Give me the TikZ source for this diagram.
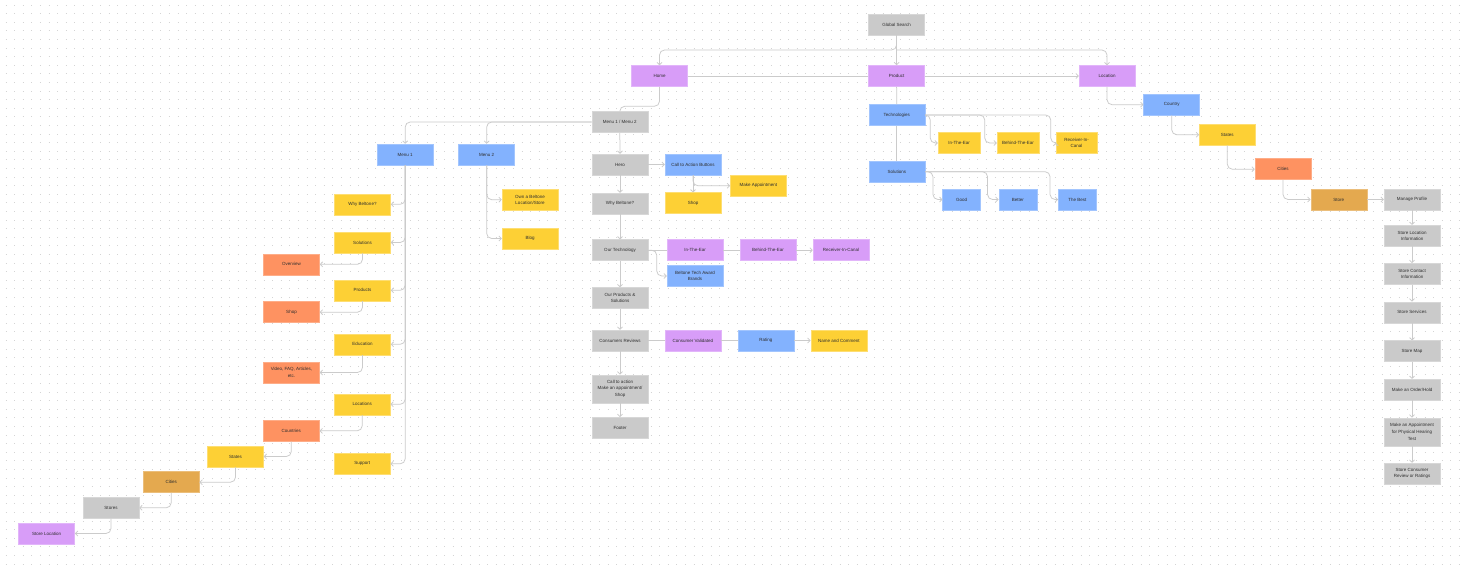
\documentclass[tikz,border=0pt]{standalone}
\usepackage{fontspec}
\setmainfont{Liberation Sans}
\usetikzlibrary{arrows.meta}

\definecolor{cgrey}{HTML}{CACACA}
\definecolor{cpurple}{HTML}{D89DF8}
\definecolor{cblue}{HTML}{83B2FE}
\definecolor{cyellow}{HTML}{FDD035}
\definecolor{corange}{HTML}{FE9261}
\definecolor{camber}{HTML}{E4A94F}
\definecolor{txt}{HTML}{2E2E2E}
\definecolor{lc}{HTML}{CBCBCB}
\definecolor{dotc}{HTML}{D4D4D4}

\tikzset{
  box/.style={rectangle, minimum width=56pt, minimum height=21pt, inner sep=0pt,
    align=center, font=\fontsize{4.5}{6.6}\selectfont, text=txt, line width=0.5pt},
  greybox/.style={box, fill=cgrey, draw=cgrey!75!white},
  purplebox/.style={box, fill=cpurple, draw=cpurple!75!white},
  bluebox/.style={box, fill=cblue, draw=cblue!75!white},
  yellowbox/.style={box, fill=cyellow, draw=cyellow!70!white},
  orangebox/.style={box, fill=corange, draw=corange!75!white},
  amberbox/.style={box, fill=camber, draw=camber!75!white},
  tall/.style={minimum height=28pt},
  conn/.style={draw=lc, line width=0.75pt, rounded corners=5pt},
  arr/.style={conn, -{Straight Barb[length=2.4pt,width=5pt]}},
}

\begin{document}
\begin{tikzpicture}[x=1pt, y=-1pt]
% canvas
\fill[white] (0,0) rectangle (1467,565);
\useasboundingbox (0,0) rectangle (1467,565);
% dotted grid
\foreach \i in {0,...,65}{
  \draw[dotc, line width=0.9pt, dash pattern=on 0.9pt off 7.7pt] (5.5,{5+8.6*\i}) -- (1467,{5+8.6*\i});
}

% ---------- top level ----------
\node[greybox] (gs) at (896.6,24.5) {Global Search};
\node[purplebox] (home) at (659.5,76) {Home};
\node[purplebox] (product) at (896.6,76) {Product};
\node[purplebox] (location) at (1107,76) {Location};
\coordinate (bus) at (896.6,50);

% ---------- product branch ----------
\node[bluebox] (tech) at (896.8,115) {Technologies};
\node[bluebox] (sol) at (896.8,171.7) {Solutions};
\node[yellowbox, minimum width=42pt] (ite) at (959,143) {In-The-Ear};
\node[yellowbox, minimum width=42pt] (bte) at (1018,143) {Behind-The-Ear};
\node[yellowbox, minimum width=41pt] (ric) at (1076.5,143) {Receiver-In-\\Canal};
\node[bluebox, minimum width=38pt] (good) at (961.7,199.5) {Good};
\node[bluebox, minimum width=38pt] (better) at (1017.8,199.5) {Better};
\node[bluebox, minimum width=38pt] (best) at (1077.3,199.5) {The Best};

% ---------- location branch ----------
\node[bluebox] (country) at (1171.7,104.7) {Country};
\node[yellowbox] (states) at (1227.3,134.7) {States};
\node[orangebox] (cities) at (1283,169.2) {Cities};
\node[amberbox] (store) at (1338.8,199.5) {Store};
\node[greybox] (manage) at (1412,199.5) {Manage Profile};
\node[greybox] (sli) at (1412,235.7) {Store Location\\Information};
\node[greybox] (sci) at (1412,273.8) {Store Contact\\Information};
\node[greybox] (sserv) at (1412,312.3) {Store Services};
\node[greybox] (smap) at (1412,351.2) {Store Map};
\node[greybox] (order) at (1412,389.7) {Make an Order/Hold};
\node[greybox, tall] (appt) at (1412,431.8) {Make an Appointment\\for Physical Hearing\\Test};
\node[greybox] (review) at (1412,473.5) {Store Consumer\\Review or Ratings};

% ---------- home page column ----------
\node[greybox] (menus) at (619.8,122) {Menu 1 / Menu 2};
\node[greybox] (hero) at (620,164.5) {Hero};
\node[bluebox] (cta) at (693,164.5) {Call to Action Buttons};
\node[yellowbox] (mkappt) at (758.3,185.8) {Make Appointment};
\node[yellowbox] (shopa) at (693,203.2) {Shop};
\node[greybox] (why) at (620,203.5) {Why Beltone?};
\node[greybox] (ourtech) at (620,250.2) {Our Technology};
\node[purplebox] (iteb) at (695,250.2) {In-The-Ear};
\node[purplebox] (bteb) at (768,250.2) {Behind-The-Ear};
\node[purplebox] (ricb) at (841,250.2) {Receiver-In-Canal};
\node[bluebox] (award) at (695,276) {Beltone Tech Award\\Brands};
\node[greybox] (prods) at (620,298) {Our Products \&\\Solutions};
\node[greybox] (creviews) at (620,340.5) {Consumers Reviews};
\node[purplebox] (cval) at (692.8,340.5) {Consumer Validated};
\node[bluebox] (rating) at (765.8,340.5) {Rating};
\node[yellowbox] (namec) at (838.8,340.5) {Name and Comment};
\node[greybox, tall] (ctab) at (620,388.8) {Call to action\\Make an appointment/\\Shop};
\node[greybox] (footer) at (620,427.8) {Footer};

% ---------- menus ----------
\node[bluebox] (menua) at (405.2,154.5) {Menu 1};
\node[bluebox] (menub) at (486.7,154.5) {Menu 2};
\node[yellowbox] (own) at (530,199.7) {Own a Beltone\\Location/Store};
\node[yellowbox] (blog) at (530,238.5) {Blog};
\node[yellowbox] (whya) at (362.5,204.3) {Why Beltone?};
\node[yellowbox] (solsa) at (362.5,242.5) {Solutions};
\node[orangebox] (overview) at (291.5,264.3) {Overview};
\node[yellowbox] (prodsa) at (362.5,290.3) {Products};
\node[orangebox] (shopb) at (291.5,312.2) {Shop};
\node[yellowbox] (edu) at (362.5,344.3) {Education};
\node[orangebox] (video) at (291.5,372.5) {Video, FAQ, Articles,\\etc.};
\node[yellowbox] (locs) at (362.2,404.3) {Locations};
\node[orangebox] (countries) at (291.3,430.8) {Countries};
\node[yellowbox] (statesb) at (235.5,456.5) {States};
\node[yellowbox] (support) at (362.2,463.8) {Support};
\node[amberbox] (citiesb) at (171.2,482.2) {Cities};
\node[greybox] (stores) at (111,507.8) {Stores};
\node[purplebox] (storeloc) at (46.7,533.5) {Store Location};

% ---------- connectors: top ----------
\draw[arr] (gs.south) -- (product.north);
\draw[arr] (gs.south) -- (bus) -| (home.north);
\draw[arr] (bus) -| (location.north);
\draw[conn] (home.east) -- (product.west);
\draw[arr] (product.east) -- (location.west);
\draw[conn] (home.south) |- ([yshift=5pt]menus.north) -- (menus.north);

% product branch
\draw[conn] (product.south) -- (tech.north);
\draw[conn] (tech.south) -- (sol.north);
\draw[arr] (tech.east) -| ([xshift=-7.5pt]ite.west) -- (ite.west);
\draw[arr] (tech.east) -| ([xshift=-12pt]bte.west) -- (bte.west);
\draw[arr] (tech.east) -| ([xshift=-5pt]ric.west) -- (ric.west);
\draw[arr] (sol.east) -| ([xshift=-9.5pt]good.west) -- (good.west);
\draw[arr] (sol.east) -| ([xshift=-11pt]better.west) -- (better.west);
\draw[arr] (sol.east) -| ([xshift=-8pt]best.west) -- (best.west);

% location branch
\draw[arr] (location.south) |- (country.west);
\draw[arr] (country.south) |- (states.west);
\draw[arr] (states.south) |- (cities.west);
\draw[arr] (cities.south) |- (store.west);
\draw[arr] (store.east) -- (manage.west);
\draw[arr] (manage.south) -- (sli.north);
\draw[arr] (sli.south) -- (sci.north);
\draw[arr] (sci.south) -- (sserv.north);
\draw[arr] (sserv.south) -- (smap.north);
\draw[arr] (smap.south) -- (order.north);
\draw[arr] (order.south) -- (appt.north);
\draw[arr] (appt.south) -- (review.north);

% home page column
\draw[arr] (menus.south) -- (hero.north);
\draw[arr] (hero.east) -- (cta.west);
\draw[arr] (cta.south) -- (shopa.north);
\draw[arr] (cta.south) |- (mkappt.west);
\draw[arr] (hero.south) -- (why.north);
\draw[arr] (why.south) -- (ourtech.north);
\draw[conn] (ourtech.east) -- (iteb.west);
\draw[conn] (iteb.east) -- (bteb.west);
\draw[arr] (bteb.east) -- (ricb.west);
\draw[arr] (ourtech.east) -| ([xshift=-10pt]award.west) -- (award.west);
\draw[arr] (ourtech.south) -- (prods.north);
\draw[arr] (prods.south) -- (creviews.north);
\draw[conn] (creviews.east) -- (cval.west);
\draw[conn] (cval.east) -- (rating.west);
\draw[arr] (rating.east) -- (namec.west);
\draw[arr] (creviews.south) -- (ctab.north);
\draw[arr] (ctab.south) -- (footer.north);

% menus
\draw[arr] (menus.west) -| (menua.north);
\draw[arr] (menus.west) -| (menub.north);
\draw[arr] (menub.south) |- (own.west);
\draw[arr] (menub.south) |- (blog.west);
\draw[arr] (menua.south) |- (whya.east);
\draw[arr] (menua.south) |- (solsa.east);
\draw[arr] (menua.south) |- (prodsa.east);
\draw[arr] (menua.south) |- (edu.east);
\draw[arr] (menua.south) |- (locs.east);
\draw[arr] (menua.south) |- (support.east);
\draw[arr] (solsa.south) |- (overview.east);
\draw[arr] (prodsa.south) |- (shopb.east);
\draw[arr] (edu.south) |- (video.east);
\draw[arr] (locs.south) |- (countries.east);
\draw[arr] (countries.south) |- (statesb.east);
\draw[arr] (statesb.south) |- (citiesb.east);
\draw[arr] (citiesb.south) |- (stores.east);
\draw[arr] (stores.south) |- (storeloc.east);
\end{tikzpicture}
\end{document}
